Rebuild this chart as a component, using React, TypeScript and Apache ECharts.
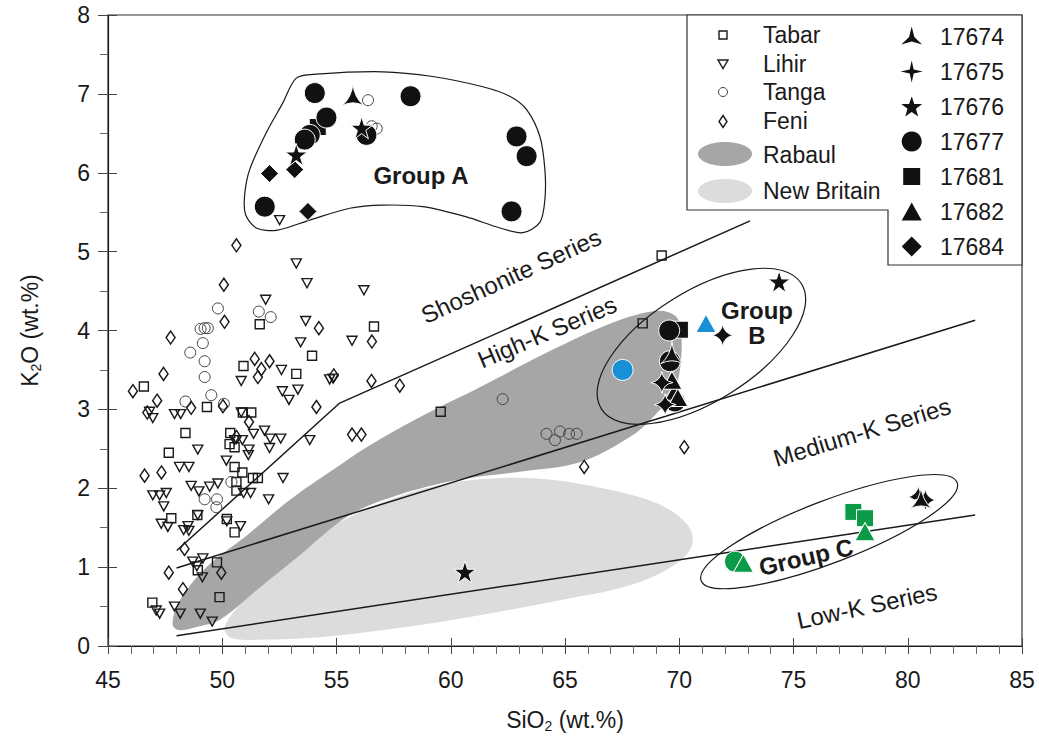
import React, { useEffect, useRef } from 'react';
import * as echarts from 'echarts';

const FONT = '"Liberation Sans", Arial, Helvetica, sans-serif';
const INK = '#1a1a1a';
const BLUE = '#1790d6';
const GREEN = '#0a9a48';
const BLACK = '#111111';

// ---- classification boundary lines (SiO2, K2O)
const shoshoniteLine = [[48.01, 1.21], [55.14, 3.08], [73.1, 5.39]];
const mediumKLine = [[48.0, 0.99], [82.95, 4.13]];
const lowKLine = [[48.0, 0.13], [82.95, 1.66]];

// ---- fields
const rabaulX = [47.83, 48.04, 48.79, 49.66, 50.98, 52.95, 54.83, 56.32, 58.64, 61.27, 64.21, 67.1, 69.02, 69.81, 70.08, 70.03, 69.73, 68.85, 67.84, 65.65, 63.02, 60.4, 57.77, 55.58, 53.39, 51.64, 49.88, 49.01, 48.13];
const rabaulY = [0.27, 0.52, 0.84, 1.09, 1.38, 1.85, 2.23, 2.52, 2.9, 3.28, 3.72, 4.1, 4.25, 4.19, 4.01, 3.5, 3.22, 2.9, 2.65, 2.33, 2.21, 2.11, 1.92, 1.66, 1.15, 0.74, 0.33, 0.25, 0.2];
const newBritainX = [50.1, 50.76, 52.51, 54.7, 57.77, 60.83, 63.9, 66.97, 69.16, 70.38, 70.56, 69.81, 67.84, 64.77, 61.27, 57.77, 54.26, 51.64, 50.41];
const newBritainY = [0.23, 0.52, 1.03, 1.5, 1.9, 2.1, 2.12, 1.98, 1.79, 1.53, 1.28, 1.03, 0.77, 0.58, 0.39, 0.23, 0.11, 0.08, 0.1];
const groupAX = [53.24, 54.12, 57.02, 59.21, 61.4, 62.58, 63.32, 63.9, 64.12, 64.12, 63.9, 63.16, 62.15, 60.69, 58.78, 57.02, 55.58, 53.83, 52.37, 51.49, 51.02, 50.98, 51.2, 51.93, 52.64];
const groupAY = [7.2, 7.25, 7.28, 7.22, 7.09, 6.97, 6.8, 6.46, 6.04, 5.66, 5.37, 5.24, 5.3, 5.44, 5.57, 5.59, 5.55, 5.4, 5.27, 5.3, 5.47, 5.72, 6.04, 6.51, 6.88];
const groupBCenter = [70.97, 3.8];
const groupCCenter = [76.56, 1.45];

// ---- reference suites
const tabar = [[46.57, 3.29], [50.93, 3.55], [53.24, 3.45], [49.33, 3.03], [48.39, 2.7], [47.66, 2.45], [50.35, 2.7], [50.32, 2.56], [50.54, 2.52], [50.54, 2.27], [50.88, 2.2], [50.62, 2.08], [50.62, 1.97], [51.34, 2.13], [51.56, 2.13], [51.27, 2.96], [50.9, 2.96], [47.77, 1.62], [48.91, 1.66], [50.2, 1.61], [50.54, 1.44], [49.77, 1.06], [48.93, 0.96], [46.94, 0.55], [49.88, 0.62], [51.64, 4.08], [56.64, 4.05], [53.93, 3.68], [59.56, 2.97], [69.23, 4.95], [68.4, 4.09]];
const lihir = [[46.96, 2.89], [46.82, 2.97], [47.91, 2.94], [48.18, 2.94], [50.83, 3.36], [52.59, 3.5], [52.63, 3.23], [52.92, 3.12], [53.31, 3.25], [53.43, 3.85], [51.37, 2.69], [50.88, 2.61], [51.85, 2.73], [52.1, 2.63], [52.56, 2.63], [52.07, 2.51], [51.17, 2.49], [51.14, 2.42], [48.93, 2.49], [50.18, 2.35], [48.13, 2.27], [48.54, 2.27], [50.93, 1.94], [51.24, 1.94], [52.66, 2.13], [52.03, 1.86], [48.64, 2.03], [48.98, 1.96], [49.45, 2.02], [49.81, 2.06], [46.96, 1.91], [47.26, 1.91], [47.55, 1.94], [47.44, 1.77], [47.33, 1.55], [47.62, 1.51], [48.31, 1.47], [48.54, 1.46], [48.5, 1.52], [48.93, 1.66], [50.2, 1.58], [50.8, 1.52], [48.71, 1.07], [49.15, 1.11], [48.89, 1.01], [49.13, 0.87], [47.11, 0.45], [47.26, 0.41], [47.91, 0.5], [48.16, 0.41], [49.04, 0.41], [49.56, 0.31], [53.24, 4.85], [53.71, 4.6], [56.2, 4.51], [51.9, 4.39], [53.65, 4.12], [55.68, 3.87], [54.7, 3.38], [54.85, 3.39], [53.83, 2.61], [50.54, 2.61], [50.83, 2.96], [52.51, 5.4]];
const tanga = [[49.81, 4.28], [51.6, 4.24], [52.12, 4.17], [49.05, 4.02], [49.23, 4.03], [49.37, 4.03], [49.15, 3.84], [48.6, 3.72], [49.23, 3.61], [49.23, 3.41], [49.52, 3.18], [48.39, 3.1], [50.07, 3.07], [50.4, 2.08], [49.23, 1.86], [49.77, 1.86], [49.74, 1.76], [62.27, 3.13], [64.19, 2.69], [64.56, 2.61], [64.78, 2.72], [65.18, 2.69], [65.51, 2.69], [56.38, 6.92], [56.54, 6.59], [56.76, 6.56]];
const feni = [[47.74, 3.91], [47.43, 3.45], [46.09, 3.23], [47.15, 3.11], [46.72, 2.96], [48.64, 3.02], [50.03, 3.04], [51.42, 3.64], [51.71, 3.51], [51.56, 3.41], [52.07, 3.61], [50.62, 2.65], [51.17, 2.84], [46.6, 2.16], [47.34, 2.2], [48.35, 1.23], [47.66, 0.93], [48.28, 0.72], [49.96, 0.93], [50.62, 5.08], [50.07, 4.58], [50.1, 4.11], [54.23, 4.03], [56.55, 3.86], [54.88, 3.43], [56.53, 3.36], [57.77, 3.3], [54.12, 3.03], [55.68, 2.68], [56.09, 2.68], [65.84, 2.27], [70.22, 2.52]];

// ---- samples
const s17674 = [[55.72, 6.99], [69.68, 3.72], [80.58, 1.88]];
const s17675 = [[71.9, 3.94], [69.24, 3.34], [69.38, 3.06], [80.46, 1.89], [80.77, 1.85]];
const s17676 = [[53.24, 6.23], [56.1, 6.57], [74.37, 4.62], [60.62, 0.94]];
const s17677 = [[54.05, 7.01], [58.24, 6.97], [54.56, 6.7], [53.83, 6.48], [53.61, 6.42], [56.31, 6.48], [62.88, 6.46], [63.32, 6.21], [51.86, 5.57], [62.66, 5.51], [69.56, 4.0], [69.59, 3.61], [69.81, 3.1]];
const s17677Blue = [[67.52, 3.5]];
const s17677Green = [[72.44, 1.07]];
const s17681 = [[54.18, 6.58], [70.03, 4.01]];
const s17681Green = [[77.62, 1.7], [78.13, 1.62]];
const s17682 = [[69.81, 3.23], [69.94, 3.15], [69.68, 3.37]];
const s17682Blue = [[71.17, 4.09]];
const s17682Green = [[78.13, 1.45], [72.81, 1.05]];
const s17684 = [[52.07, 5.99], [53.17, 6.04], [53.75, 5.51]];

const STAR5 = 'path://M50,0 L61.2,34.5 L97.6,34.5 L68.2,55.9 L79.4,90.5 L50,69.1 L20.6,90.5 L31.8,55.9 L2.4,34.5 L38.8,34.5 Z';
const STAR4 = 'path://M50,0 Q57,43 100,50 Q57,57 50,100 Q43,57 0,50 Q43,43 50,0 Z';
const TRISTAR = 'path://M50,0 Q56,55 98,86 Q50,64 2,86 Q44,55 50,0 Z';
const TRIDOWN = 'path://M0,0 L100,0 L50,87 Z';

const colored = (pts: number[][], color?: string) =>
  pts.map((v) => (color ? { value: v, itemStyle: { color } } : { value: v }));

function polygonSeries(name: string, xs: number[], ys: number[], style: any, smooth: number, z: number) {
  return {
    type: 'custom', name, silent: true, z,
    data: [[xs[0], ys[0]]],
    renderItem: (_p: any, api: any) => ({
      type: 'polygon',
      shape: { points: xs.map((x, i) => api.coord([x, ys[i]])), smooth },
      style,
    }),
  };
}

function ellipseSeries(name: string, c: number[], rx: number, ry: number, deg: number) {
  return {
    type: 'custom', name, silent: true, z: 3,
    data: [c],
    renderItem: (_p: any, api: any) => {
      const p = api.coord([api.value(0), api.value(1)]);
      return {
        type: 'ellipse', x: p[0], y: p[1], rotation: (deg * Math.PI) / 180,
        shape: { cx: 0, cy: 0, rx, ry },
        style: { fill: 'none', stroke: INK, lineWidth: 1.2 },
      };
    },
  };
}

const lineSeries = (name: string, pts: number[][]) => ({
  type: 'line', name, data: pts, symbol: 'none', showSymbol: false, silent: true, z: 3,
  lineStyle: { color: INK, width: 1.5 },
});

const refScatter = (name: string, data: number[][], symbol: string, size: any, stroke: string, lw: number) => ({
  type: 'scatter', name, data, symbol, symbolSize: size, silent: true, z: 4,
  itemStyle: { color: 'rgba(255,255,255,0)', borderColor: stroke, borderWidth: lw, opacity: 1 },
});

const mainScatter = (name: string, data: any[], symbol: string, size: any) => ({
  type: 'scatter', name, data, symbol, symbolSize: size, silent: true, z: 5,
  itemStyle: { color: BLACK, borderColor: '#fff', borderWidth: 1, opacity: 1 },
});

function starPts(cx: number, cy: number, n: number, R: number, r: number) {
  const pts: number[][] = [];
  for (let k = 0; k < 2 * n; k++) {
    const a = -Math.PI / 2 + (k * Math.PI) / n;
    const rr = k % 2 === 0 ? R : r;
    pts.push([cx + rr * Math.cos(a), cy + rr * Math.sin(a)]);
  }
  return pts;
}

function buildGraphic() {
  const els: any[] = [];
  const txt = (text: string, x: number, y: number, extra: any = {}, rot = 0) => ({
    type: 'text', x, y, rotation: (rot * Math.PI) / 180, z: 60,
    style: { text, fill: INK, fontSize: 23, fontFamily: FONT, align: 'left', verticalAlign: 'middle', ...extra },
  });
  // legend box
  els.push({
    type: 'polygon', z: 50,
    shape: { points: [[687, 15], [1022, 15], [1022, 265], [888, 265], [888, 210], [687, 210]] },
    style: { fill: '#fff', stroke: '#333', lineWidth: 1.2 },
  });
  const ls = { fill: 'none', stroke: INK, lineWidth: 1.4 };
  els.push({ type: 'rect', z: 55, shape: { x: 719, y: 31, width: 8, height: 8 }, style: ls });
  els.push({ type: 'polygon', z: 55, shape: { points: [[718, 60], [728, 60], [723, 68.5]] }, style: ls });
  els.push({ type: 'circle', z: 55, shape: { cx: 723, cy: 92, r: 4.5 }, style: { fill: 'none', stroke: '#444', lineWidth: 1 } });
  els.push({ type: 'polygon', z: 55, shape: { points: [[723, 115.5], [727, 121.5], [723, 127.5], [719, 121.5]] }, style: ls });
  els.push({ type: 'ellipse', z: 55, shape: { cx: 725, cy: 154, rx: 27, ry: 12 }, style: { fill: '#a6a6a6' } });
  els.push({ type: 'ellipse', z: 55, shape: { cx: 725, cy: 191, rx: 27, ry: 12 }, style: { fill: '#dcdcdc' } });
  const leftNames = ['Tabar', 'Lihir', 'Tanga', 'Feni', 'Rabaul', 'New Britain'];
  const leftY = [35, 64, 92, 121, 155, 191];
  leftNames.forEach((n, i) => els.push(txt(n, 763, leftY[i])));

  const ix = 911.7;
  const rightNames = ['17674', '17675', '17676', '17677', '17681', '17682', '17684'];
  const ry = [36.5, 71.5, 106.5, 141.5, 176.5, 211.5, 246.5];
  const fill = { fill: BLACK };
  els.push({ type: 'polygon', z: 55, shape: { points: starPts(ix, ry[0] + 2, 3, 12, 3) }, style: fill });
  els.push({ type: 'polygon', z: 55, shape: { points: starPts(ix, ry[1], 4, 11, 2.8) }, style: fill });
  els.push({ type: 'polygon', z: 55, shape: { points: starPts(ix, ry[2] + 1, 5, 11, 4.4) }, style: fill });
  els.push({ type: 'circle', z: 55, shape: { cx: ix, cy: ry[3], r: 10 }, style: fill });
  els.push({ type: 'rect', z: 55, shape: { x: ix - 8.5, y: ry[4] - 8.5, width: 17, height: 17 }, style: fill });
  els.push({ type: 'polygon', z: 55, shape: { points: [[ix, ry[5] - 9], [ix + 10, ry[5] + 9], [ix - 10, ry[5] + 9]] }, style: fill });
  els.push({ type: 'polygon', z: 55, shape: { points: [[ix, ry[6] - 10], [ix + 10, ry[6]], [ix, ry[6] + 10], [ix - 10, ry[6]]] }, style: fill });
  rightNames.forEach((n, i) => els.push(txt(n, 940, ry[i])));

  // annotations
  const c = { align: 'center', fontSize: 24 };
  els.push(txt('Shoshonite Series', 511, 276, c, 24.5));
  els.push(txt('High-K Series', 547, 332, c, 23));
  els.push(txt('Medium-K Series', 862, 432, c, 17));
  els.push(txt('Low-K Series', 867, 606, c, 12));
  const b = { align: 'center', fontWeight: 'bold', fontSize: 24 };
  els.push(txt('Group A', 421, 175, b));
  els.push(txt('Group', 757, 310, b));
  els.push(txt('B', 757, 335, b));
  els.push(txt('Group C', 806, 557, b, 13));
  return els;
}

function buildOption() {
  const axisText = { fontSize: 23, color: INK, fontFamily: FONT };
  const rich = {
    a: { fontSize: 23, color: INK, fontFamily: FONT, verticalAlign: 'top', lineHeight: 24 },
    s: { fontSize: 14, color: INK, fontFamily: FONT, verticalAlign: 'top', lineHeight: 14, padding: [11, 0, 0, 0] },
  };
  return {
    animation: false,
    backgroundColor: '#fff',
    grid: { left: 108, right: 17, top: 15, bottom: 101, show: true, borderColor: '#333', borderWidth: 1.2, backgroundColor: 'transparent' },
    xAxis: [
      {
        type: 'value', min: 45, max: 85, interval: 5, position: 'bottom',
        axisLine: { show: true, lineStyle: { color: INK, width: 1.2 } },
        axisTick: { show: true, length: 8, lineStyle: { color: '#444' } },
        minorTick: { show: true, splitNumber: 5, length: 8, lineStyle: { color: '#666' } },
        splitLine: { show: false },
        axisLabel: { ...axisText, margin: 22 },
        name: '{a|SiO}{s|2}{a| (wt.%)}', nameLocation: 'middle', nameGap: 62,
        nameTextStyle: { ...axisText, rich },
      },
      {
        type: 'value', min: 45, max: 85, interval: 5, position: 'bottom',
        axisLine: { show: false }, axisLabel: { show: false }, splitLine: { show: false },
        axisTick: { show: true, inside: true, length: 8, lineStyle: { color: '#444' } },
      },
    ],
    yAxis: [
      {
        type: 'value', min: 0, max: 8, interval: 1, position: 'left',
        axisLine: { show: true, lineStyle: { color: INK, width: 1.2 } },
        axisTick: { show: true, length: 10, lineStyle: { color: '#444' } },
        minorTick: { show: true, splitNumber: 2, length: 8, lineStyle: { color: '#666' } },
        splitLine: { show: false },
        axisLabel: { ...axisText, margin: 18 },
        name: '{a|K}{s|2}{a|O (wt.%)}', nameLocation: 'middle', nameGap: 66,
        nameTextStyle: { ...axisText, rich },
      },
      {
        type: 'value', min: 0, max: 8, interval: 1, position: 'left',
        axisLine: { show: false }, axisLabel: { show: false }, splitLine: { show: false },
        axisTick: { show: true, inside: true, length: 9, lineStyle: { color: '#444' } },
      },
    ],
    graphic: buildGraphic(),
    series: [
      polygonSeries('New Britain', newBritainX, newBritainY, { fill: '#dcdcdc' }, 0.35, 1),
      polygonSeries('Rabaul', rabaulX, rabaulY, { fill: '#a6a6a6' }, 0.35, 2),
      polygonSeries('Group A', groupAX, groupAY, { fill: 'none', stroke: INK, lineWidth: 1.2 }, 0.3, 3),
      ellipseSeries('Group B', groupBCenter, 118, 55, 32),
      ellipseSeries('Group C', groupCCenter, 137, 31, 21),
      lineSeries('Shoshonite boundary', shoshoniteLine),
      lineSeries('High-K boundary', mediumKLine),
      lineSeries('Medium-K boundary', lowKLine),
      refScatter('Tabar', tabar, 'rect', 9, INK, 1.4),
      refScatter('Lihir', lihir, TRIDOWN, [10, 9], INK, 1.4),
      refScatter('Tanga', tanga, 'circle', 11, '#444', 1),
      refScatter('Feni', feni, 'diamond', [9, 13], INK, 1.5),
      mainScatter('17684', colored(s17684), 'diamond', 18),
      mainScatter('17681', [...colored(s17681), ...colored(s17681Green, GREEN)], 'rect', 17),
      mainScatter('17677', [...colored(s17677), ...colored(s17677Blue, BLUE), ...colored(s17677Green, GREEN)], 'circle', 21),
      mainScatter('17682', [...colored(s17682), ...colored(s17682Blue, BLUE), ...colored(s17682Green, GREEN)], 'triangle', [20, 18]),
      mainScatter('17676', colored(s17676), STAR5, 22),
      mainScatter('17675', colored(s17675), STAR4, 22),
      mainScatter('17674', colored(s17674), TRISTAR, 22),
    ],
  };
}

export default function App() {
  const ref = useRef<HTMLDivElement>(null);
  useEffect(() => {
    if (!ref.current) return;
    const chart = echarts.init(ref.current, undefined, { renderer: 'svg' });
    chart.setOption(buildOption() as any);
    return () => chart.dispose();
  }, []);
  return (
    <div
      ref={ref}
      style={{ position: 'fixed', left: 0, top: 0, width: 1039, height: 747, background: '#fff' }}
    />
  );
}
